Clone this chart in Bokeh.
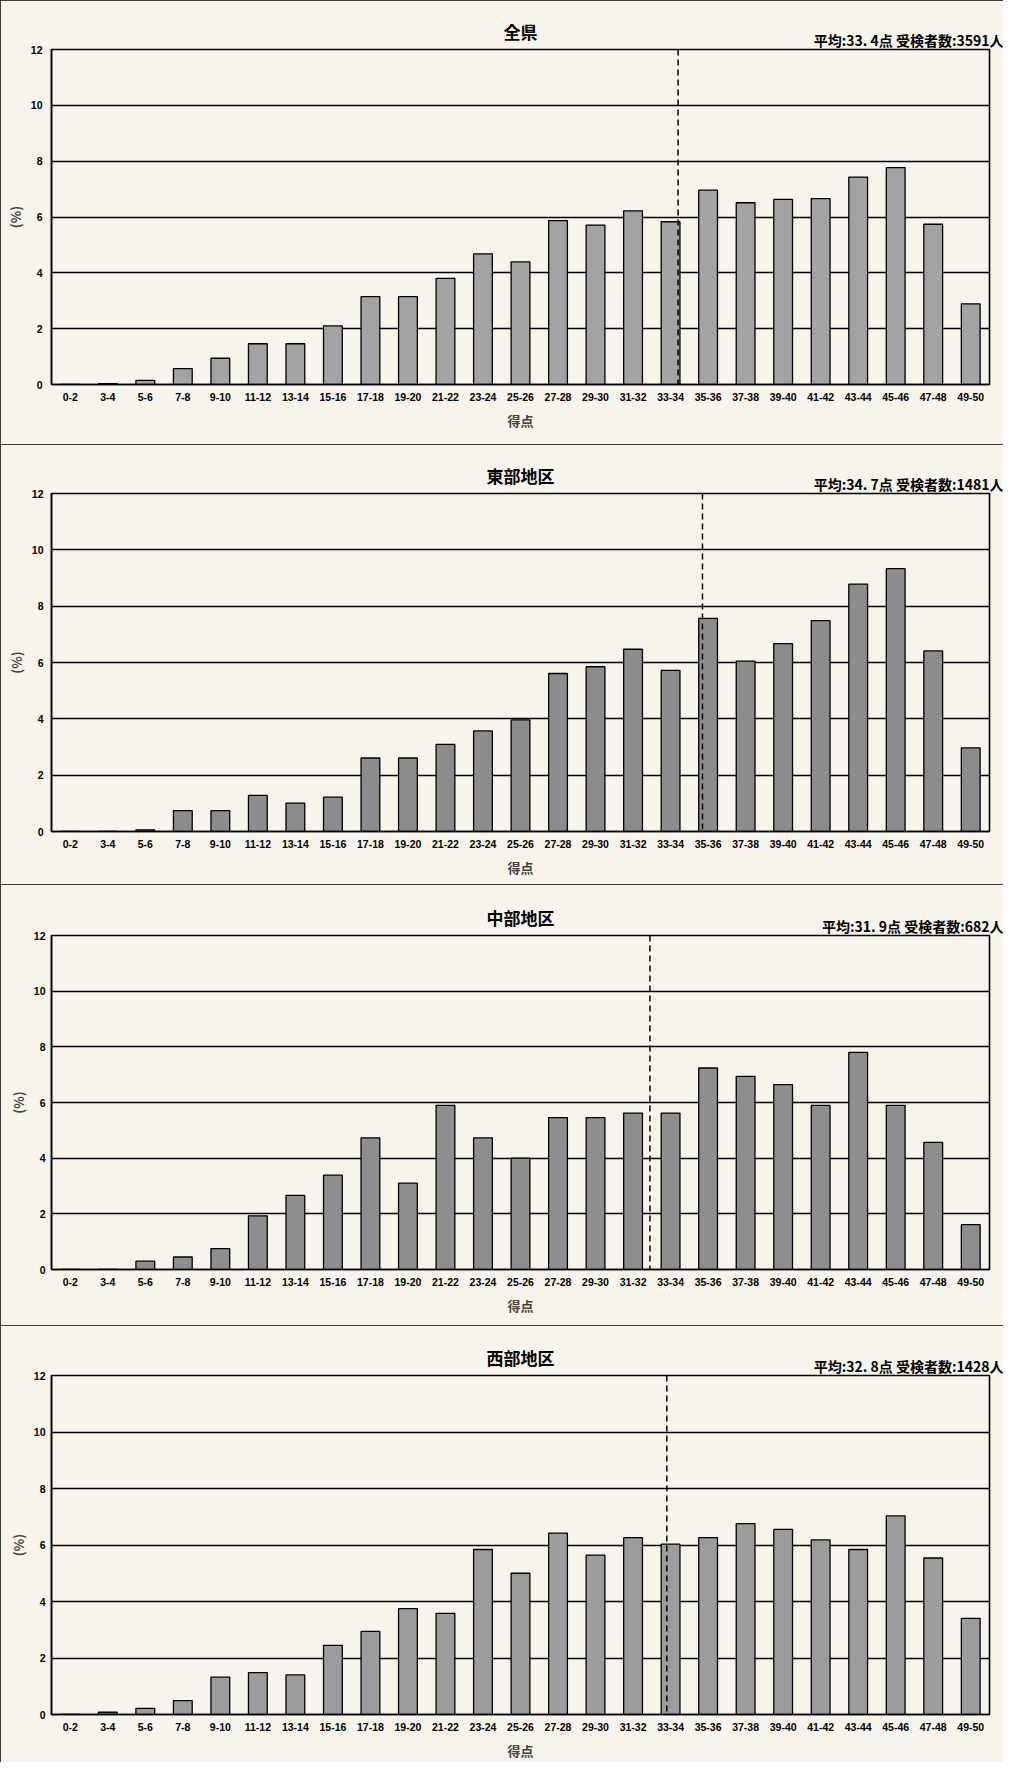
from bokeh.plotting import figure
from bokeh.models import Title, Span, Range1d, FixedTicker
from bokeh.layouts import column
from bokeh.embed import file_html
from bokeh.resources import INLINE

categories = ["0-2", "3-4", "5-6", "7-8", "9-10", "11-12", "13-14", "15-16",
              "17-18", "19-20", "21-22", "23-24", "25-26", "27-28", "29-30",
              "31-32", "33-34", "35-36", "37-38", "39-40", "41-42", "43-44",
              "45-46", "47-48", "49-50"]

region_names = ["全県", "東部地区", "中部地区", "西部地区"]
means = [33.4, 34.7, 31.9, 32.8]
counts = [3591, 1481, 682, 1428]

zenken = [0, 0.03, 0.15, 0.57, 0.94, 1.46, 1.46, 2.10, 3.15, 3.15, 3.80, 4.68, 4.39,
          5.87, 5.71, 6.22, 5.83, 6.96, 6.51, 6.63, 6.66, 7.43, 7.77, 5.74, 2.89]
toubu = [0, 0, 0.06, 0.74, 0.74, 1.28, 1.01, 1.22, 2.61, 2.61, 3.09, 3.57, 3.96,
         5.61, 5.85, 6.47, 5.72, 7.57, 6.05, 6.67, 7.49, 8.78, 9.33, 6.41, 2.97]
chubu = [0, 0, 0.30, 0.45, 0.75, 1.93, 2.66, 3.39, 4.73, 3.10, 5.90, 4.73, 4.00,
         5.46, 5.46, 5.62, 5.62, 7.24, 6.94, 6.64, 5.90, 7.80, 5.90, 4.57, 1.61]
seibu = [0, 0.08, 0.22, 0.49, 1.32, 1.48, 1.40, 2.45, 2.94, 3.75, 3.58, 5.84, 5.00,
         6.42, 5.64, 6.26, 6.03, 6.26, 6.76, 6.55, 6.18, 5.84, 7.03, 5.54, 3.40]
series = [zenken, toubu, chubu, seibu]

y_ticks = [0, 2, 4, 6, 8, 10, 12]

# layout / style (not data)
WIDTH = 1003
heights = [444, 440, 441, 437]
border_left = [51, 47, 37, 36]
border_right = [12, 12, 14, 14]
border_top = [49, 49, 51, 50]
border_bottom = [60, 53, 56, 46]
ylabel_standoff = [9, 8, 6, 6]
bar_colors = ["#a3a3a3", "#8c8c8c", "#8e8e8e", "#9c9c9c"]
PAPER = "#f6f4eb"
JP = "Noto Sans CJK JP"
NUM = "Liberation Sans"

figs = []
for i in range(4):
    p = figure(x_range=categories, y_range=Range1d(0, 12), width=WIDTH, height=heights[i],
               output_backend="svg", toolbar_location=None, title=None,
               min_border_left=border_left[i], min_border_right=border_right[i],
               min_border_top=border_top[i], min_border_bottom=border_bottom[i])
    p.background_fill_color = PAPER
    p.border_fill_color = PAPER
    p.outline_line_color = "black"
    p.outline_line_width = 1.6
    p.styles = {"outline": "1px solid black", "outline-offset": "-1px"}

    p.vbar(x=categories, top=series[i], width=0.5, bottom=0,
           fill_color=bar_colors[i], line_color="black", line_width=1.3)

    p.add_layout(Span(location=means[i] / 2, dimension="height", line_color="black",
                      line_width=1.5, line_dash="6 4"))

    # grid
    p.xgrid.grid_line_color = None
    p.ygrid.grid_line_color = "black"
    p.ygrid.grid_line_width = 1.5
    p.yaxis.ticker = FixedTicker(ticks=y_ticks)

    # y axis
    p.yaxis.axis_line_color = "black"
    p.yaxis.axis_line_width = 1.5
    p.yaxis.major_tick_line_color = None
    p.yaxis.minor_tick_line_color = None
    p.yaxis.major_tick_out = 0
    p.yaxis.major_tick_in = 0
    p.yaxis.major_label_standoff = ylabel_standoff[i]
    p.yaxis.major_label_text_font = NUM
    p.yaxis.major_label_text_font_style = "bold"
    p.yaxis.major_label_text_font_size = "10.5px"
    p.yaxis.major_label_text_color = "black"
    p.yaxis.axis_label = "(%)"
    p.yaxis.axis_label_text_font = JP
    p.yaxis.axis_label_text_font_style = "bold"
    p.yaxis.axis_label_text_font_size = "13px"
    p.yaxis.axis_label_standoff = 3

    # x axis
    p.xaxis.axis_line_color = "black"
    p.xaxis.axis_line_width = 1.5
    p.xaxis.major_tick_line_color = None
    p.xaxis.major_tick_out = 0
    p.xaxis.major_tick_in = 0
    p.xaxis.major_label_standoff = 8
    p.xaxis.major_label_text_font = NUM
    p.xaxis.major_label_text_font_style = "bold"
    p.xaxis.major_label_text_font_size = "10.5px"
    p.xaxis.major_label_text_color = "black"
    p.xaxis.axis_label = "得点"
    p.xaxis.axis_label_text_font = JP
    p.xaxis.axis_label_text_font_style = "bold"
    p.xaxis.axis_label_text_font_size = "13px"
    p.xaxis.axis_label_standoff = 7

    sub = "平均:" + f"{means[i]:.1f}".replace(".", ". ") + "点 受検者数:" + f"{counts[i]}人"
    p.add_layout(Title(text=sub, align="right", text_font=JP, text_font_size="14px",
                       text_font_style="bold", text_color="black", offset=-14, standoff=0), "above")
    p.add_layout(Title(text=region_names[i], align="center", text_font=JP,
                       text_font_size="17px", text_font_style="bold", text_color="black",
                       standoff=-32), "above")
    figs.append(p)

layout = column(*figs, spacing=0)
open("out.html", "w").write(file_html(layout, INLINE))
